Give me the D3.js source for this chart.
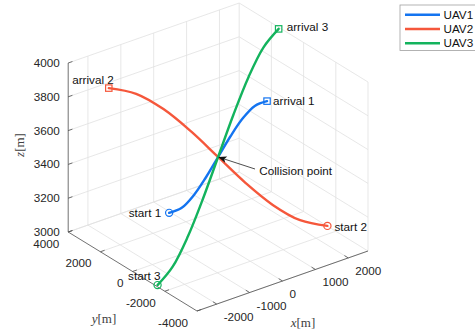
<!DOCTYPE html>
<html>
<head>
<meta charset="utf-8">
<script src="https://cdn.jsdelivr.net/npm/d3@7/dist/d3.min.js"></script>
<style>
  body { margin: 0; background: #fff; }
  svg { display: block; }
</style>
</head>
<body>
<svg id="chart" width="475" height="333"></svg>
<script>
// Axis limits and ticks
const xLim = [-2600, 2600];
const yLim = [-4000, 4000];
const zLim = [3000, 4000];
const xTicks = [-2000, -1000, 0, 1000, 2000];
const yTicks = [-4000, -2000, 0, 2000, 4000];
const zTicks = [3000, 3200, 3400, 3600, 3800, 4000];

// Trajectories, listed from start to arrival (metres)
const uav1X = [-950, -712, -475, -238, 0, 238, 475, 712, 950];
const uav1Y = [1100, 825, 550, 275, 0, -275, -550, -825, -1100];
const uav1Z = [3170, 3198, 3273, 3379, 3500, 3621, 3727, 3802, 3830];

const uav2X = [2100, 1575, 1050, 525, 0, -525, -1050, -1575, -2100];
const uav2Y = [-2500, -1875, -1250, -625, 0, 625, 1250, 1875, 2500];
const uav2Z = [3095, 3128, 3218, 3348, 3500, 3652, 3782, 3872, 3905];

const uav3X = [-2600, -1950, -1300, -650, 0, 650, 1300, 1950, 2600];
const uav3Y = [-1550, -1162, -775, -388, 0, 388, 775, 1162, 1550];
const uav3Z = [3010, 3052, 3163, 3320, 3500, 3680, 3837, 3948, 3990];

const seriesNames = ["UAV1", "UAV2", "UAV3"];
const seriesColors = ["#1474f0", "#f5573b", "#13b35d"];
const startLabels = ["start 1", "start 2", "start 3"];
const arrivalLabels = ["arrival 1", "arrival 2", "arrival 3"];
const collisionPoint = [0, 0, 3500];
const collisionLabel = "Collision point";

const series = [
  { X: uav1X, Y: uav1Y, Z: uav1Z },
  { X: uav2X, Y: uav2Y, Z: uav2Z },
  { X: uav3X, Y: uav3Y, Z: uav3Z }
].map((s, i) => ({
  name: seriesNames[i], color: seriesColors[i],
  start: startLabels[i], arrival: arrivalLabels[i],
  pts: s.X.map((x, k) => [x, s.Y[k], s.Z[k]])
}));

// Oblique 3-D projection: each axis maps to a screen displacement vector
const origin = [197, 311];              // (xmin, ymin, zmin) corner
const sx = d3.scaleLinear().domain(xLim).range([0, 1]);
const sy = d3.scaleLinear().domain(yLim).range([0, 1]);
const sz = d3.scaleLinear().domain(zLim).range([0, 1]);
const ex = [171, -60], ey = [-128.8, -79], ez = [0, -169];
function proj(x, y, z) {
  const a = sx(x), b = sy(y), c = sz(z);
  return [origin[0] + a * ex[0] + b * ey[0] + c * ez[0],
          origin[1] + a * ex[1] + b * ey[1] + c * ez[1]];
}

const svg = d3.select("#chart");
const font = "'Liberation Sans', Arial, Helvetica, sans-serif";
const fs = 11.7;

// Grid lines on the floor and the two back walls
const gridColor = "#e1e1e1";
const grid = svg.append("g").attr("stroke", gridColor).attr("stroke-width", 0.8).attr("fill", "none");
function seg(p, q) {
  const a = proj(...p), b = proj(...q);
  grid.append("line").attr("x1", a[0]).attr("y1", a[1]).attr("x2", b[0]).attr("y2", b[1]);
}
// floor z = zmin
xTicks.forEach(x => seg([x, yLim[0], zLim[0]], [x, yLim[1], zLim[0]]));
yTicks.forEach(y => seg([xLim[0], y, zLim[0]], [xLim[1], y, zLim[0]]));
// back wall y = ymax
xTicks.forEach(x => seg([x, yLim[1], zLim[0]], [x, yLim[1], zLim[1]]));
zTicks.forEach(z => seg([xLim[0], yLim[1], z], [xLim[1], yLim[1], z]));
// back wall x = xmax
yTicks.forEach(y => seg([xLim[1], y, zLim[0]], [xLim[1], y, zLim[1]]));
zTicks.forEach(z => seg([xLim[1], yLim[0], z], [xLim[1], yLim[1], z]));

// Axis lines and ticks
const axisColor = "#4d4d4d";
const axes = svg.append("g").attr("stroke", axisColor).attr("stroke-width", 0.8);
function axLine(p, q) {
  const a = proj(...p), b = proj(...q);
  axes.append("line").attr("x1", a[0]).attr("y1", a[1]).attr("x2", b[0]).attr("y2", b[1]);
}
axLine([xLim[0], yLim[0], zLim[0]], [xLim[1], yLim[0], zLim[0]]);
axLine([xLim[0], yLim[0], zLim[0]], [xLim[0], yLim[1], zLim[0]]);
axLine([xLim[0], yLim[1], zLim[0]], [xLim[0], yLim[1], zLim[1]]);

const tickLen = 4.5;
const nx = [ex[0] / Math.hypot(...ex), ex[1] / Math.hypot(...ex)];
const ny = [ey[0] / Math.hypot(...ey), ey[1] / Math.hypot(...ey)];
function tick(p, dir) {
  axes.append("line").attr("x1", p[0]).attr("y1", p[1])
    .attr("x2", p[0] + dir[0] * tickLen).attr("y2", p[1] + dir[1] * tickLen);
}
const labels = svg.append("g").attr("font-family", font).attr("font-size", fs).attr("fill", "#262626");

xTicks.forEach(x => {
  const p = proj(x, yLim[0], zLim[0]);
  tick(p, ny);
  labels.append("text").attr("x", p[0] + 7).attr("y", p[1] + 17).text(String(x));
});
yTicks.forEach(y => {
  const p = proj(xLim[0], y, zLim[0]);
  tick(p, nx);
  labels.append("text").attr("x", p[0] - 9).attr("y", p[1] + 15.5).attr("text-anchor", "end").text(String(y));
});
zTicks.forEach(z => {
  const p = proj(xLim[0], yLim[1], z);
  tick(p, nx);
  labels.append("text").attr("x", p[0] - 8.5).attr("y", p[1] + 4).attr("text-anchor", "end").text(String(z));
});

// Axis titles (LaTeX-style: italic symbol, upright unit)
const serif = "'Liberation Serif', 'Times New Roman', serif";
function axisTitle(x, y, sym, rot) {
  const t = svg.append("text").attr("font-family", serif).attr("font-size", 13)
    .attr("fill", "#404040").attr("text-anchor", "middle")
    .attr("transform", `translate(${x},${y})` + (rot ? ` rotate(${rot})` : ""));
  t.append("tspan").attr("font-style", "italic").text(sym);
  t.append("tspan").text("[m]");
}
axisTitle(303, 327, "x", 0);
axisTitle(104, 322.5, "y", 0);
axisTitle(23.5, 145, "z", -90);

// Trajectories
const line = d3.line().curve(d3.curveCatmullRom.alpha(0.5));
const traj = svg.append("g");
series.forEach(s => {
  traj.append("path").attr("d", line(s.pts.map(p => proj(...p))))
    .attr("fill", "none").attr("stroke", s.color).attr("stroke-width", 2.4)
    .attr("stroke-linecap", "round");
});

// Start (circle) and arrival (square) markers with labels
const labelOffsets = [
  { start: [-8, 0, "end"], arrival: [6, 0, "start"] },
  { start: [7, 1, "start"], arrival: [5, -8.3, "end"] },
  { start: [3, -9.2, "end"], arrival: [8, -1.7, "start"] }
];
const marks = svg.append("g");
series.forEach((s, i) => {
  const a = proj(...s.pts[0]);
  const b = proj(...s.pts[s.pts.length - 1]);
  marks.append("circle").attr("cx", a[0]).attr("cy", a[1]).attr("r", 3.6)
    .attr("fill", "none").attr("stroke", s.color).attr("stroke-width", 1.2);
  marks.append("rect").attr("x", b[0] - 3.2).attr("y", b[1] - 3.2).attr("width", 6.4).attr("height", 6.4)
    .attr("fill", "none").attr("stroke", s.color).attr("stroke-width", 1.2);
  const o = labelOffsets[i];
  marks.append("text").attr("font-family", font).attr("font-size", fs).attr("fill", "#111")
    .attr("x", a[0] + o.start[0]).attr("y", a[1] + o.start[1] + 4).attr("text-anchor", o.start[2]).text(s.start);
  marks.append("text").attr("font-family", font).attr("font-size", fs).attr("fill", "#111")
    .attr("x", b[0] + o.arrival[0]).attr("y", b[1] + o.arrival[1] + 4).attr("text-anchor", o.arrival[2]).text(s.arrival);
});

// Collision annotation arrow
const tip = proj(...collisionPoint);
const tail = [255, 169];
const ang = Math.atan2(tip[1] - tail[1], tip[0] - tail[0]);
const ux = Math.cos(ang), uy = Math.sin(ang);
const hl = 8.5, hw = 3.4, notch = 6.5;
svg.append("line").attr("x1", tail[0]).attr("y1", tail[1])
  .attr("x2", tip[0] - ux * notch).attr("y2", tip[1] - uy * notch)
  .attr("stroke", "#222").attr("stroke-width", 0.8);
svg.append("path").attr("fill", "#111").attr("d",
  `M${tip[0]},${tip[1]}` +
  `L${tip[0] - ux * hl - uy * hw},${tip[1] - uy * hl + ux * hw}` +
  `L${tip[0] - ux * notch},${tip[1] - uy * notch}` +
  `L${tip[0] - ux * hl + uy * hw},${tip[1] - uy * hl - ux * hw}Z`);
svg.append("text").attr("font-family", font).attr("font-size", fs).attr("fill", "#111")
  .attr("x", 259.3).attr("y", 174.8).text(collisionLabel);

// Legend
const lg = svg.append("g").attr("transform", "translate(400,5)");
lg.append("rect").attr("x", 0).attr("y", 0).attr("width", 80).attr("height", 45.5)
  .attr("fill", "#fff").attr("stroke", "#a0a0a0").attr("stroke-width", 0.8);
series.forEach((s, i) => {
  const yy = 9.7 + i * 14.3;
  lg.append("line").attr("x1", 5).attr("x2", 40).attr("y1", yy).attr("y2", yy)
    .attr("stroke", s.color).attr("stroke-width", 2.4);
  lg.append("text").attr("x", 43.5).attr("y", yy + 4).attr("font-family", font)
    .attr("font-size", fs).attr("fill", "#111").text(s.name);
});
</script>
</body>
</html>
